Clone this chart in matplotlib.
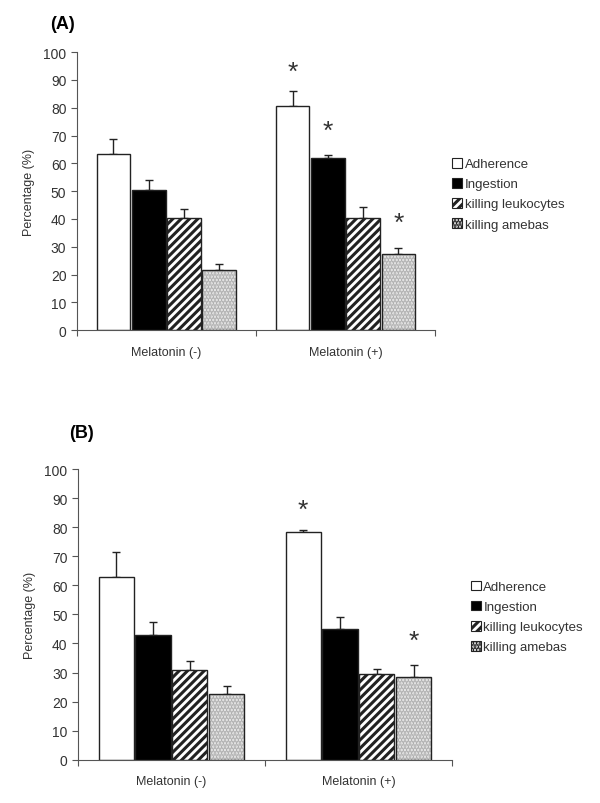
import numpy as np
import matplotlib.pyplot as plt
from matplotlib.patches import Patch

plt.rcParams['font.family'] = ['Liberation Sans', 'DejaVu Sans']
plt.rcParams['hatch.linewidth'] = 2.2

groups = ['Melatonin (-)', 'Melatonin (+)']
series = ['Adherence', 'Ingestion', 'killing leukocytes', 'killing amebas']

# panel A
a_vals = {'Adherence': [63.5, 80.5], 'Ingestion': [50.5, 62.0],
          'killing leukocytes': [40.5, 40.2], 'killing amebas': [21.5, 27.5]}
a_err = {'Adherence': [5.2, 5.4], 'Ingestion': [3.6, 1.0],
         'killing leukocytes': [3.2, 4.2], 'killing amebas': [2.2, 2.2]}
a_stars = [(1, 'Adherence', 93.0), (1, 'Ingestion', 71.5), (1, 'killing amebas', 38.5)]

# panel B
b_vals = {'Adherence': [62.8, 78.3], 'Ingestion': [43.0, 45.1],
          'killing leukocytes': [30.9, 29.5], 'killing amebas': [22.7, 28.4]}
b_err = {'Adherence': [8.7, 0.8], 'Ingestion': [4.3, 4.0],
         'killing leukocytes': [3.0, 1.7], 'killing amebas': [2.7, 4.2]}
b_stars = [(1, 'Adherence', 86.0), (1, 'killing amebas', 41.0)]

styles = {'Adherence': dict(facecolor='white', hatch=None),
          'Ingestion': dict(facecolor='black', hatch=None),
          'killing leukocytes': dict(facecolor='white', hatch='////'),
          'killing amebas': dict(facecolor='#ececec', hatch='.....')}

step = 0.197
width = 0.188
offsets = (np.arange(4) - 1.5) * step


def draw_panel(ax, vals, errs, stars, label, label_xy, legend_xy):
    x = np.arange(len(groups)) + 0.5
    for i, s in enumerate(series):
        st = styles[s]
        if s == 'killing amebas':
            ax.bar(x + offsets[i], vals[s], width, facecolor=st['facecolor'],
                   edgecolor='#b0b0b0', linewidth=0, hatch=st['hatch'], zorder=2)
            ax.bar(x + offsets[i], vals[s], width, facecolor='none',
                   edgecolor='#222222', linewidth=1.0, zorder=3)
        else:
            ax.bar(x + offsets[i], vals[s], width, facecolor=st['facecolor'],
                   edgecolor='#222222', linewidth=1.0, hatch=st['hatch'], zorder=2)
        ax.errorbar(x + offsets[i], vals[s], yerr=[np.zeros(2), errs[s]],
                    fmt='none', ecolor='#222222', elinewidth=1.0, capsize=3,
                    capthick=1.0, zorder=1)
    for g, s, yv in stars:
        ax.text(g + 0.5 + offsets[series.index(s)], yv, '*', ha='center',
                va='center', fontsize=19, color='#333333')

    ax.set_xlim(0, 2)
    ax.set_ylim(0, 100)
    ax.set_yticks(np.arange(0, 101, 10))
    ax.set_xticks([0, 1, 2])
    ax.set_xticklabels([])
    ax.set_xticks(x, minor=True)
    ax.set_xticklabels(groups, minor=True, fontsize=9, color='#333333')
    ax.tick_params(axis='x', which='minor', length=0, pad=11)
    ax.tick_params(axis='x', which='major', length=4, direction='out', color='#555555')
    ax.tick_params(axis='y', length=4, direction='out', labelsize=10,
                   labelcolor='#333333', color='#555555')
    for sp in ['top', 'right']:
        ax.spines[sp].set_visible(False)
    for sp in ['left', 'bottom']:
        ax.spines[sp].set_color('#555555')
    ax.set_ylabel('Percentage (%)', fontsize=9, color='#333333', labelpad=6)

    fig.text(label_xy[0], label_xy[1], label, fontsize=13, fontweight='bold',
             va='center')

    handles = []
    for s in series:
        st = styles[s]
        handles.append(Patch(facecolor=st['facecolor'], edgecolor='#222222',
                             hatch=st['hatch'], linewidth=0.8, label=s))
    leg = fig.legend(handles=handles, loc='upper left', bbox_to_anchor=legend_xy,
                     frameon=False, fontsize=9.5, handlelength=0.75,
                     handleheight=0.75, handletextpad=0.2, labelspacing=0.58,
                     borderaxespad=0)
    for t in leg.get_texts():
        t.set_color('#333333')


fig = plt.figure(figsize=(6, 8.04), dpi=100)
axA = fig.add_axes([0.128, 0.588, 0.597, 0.346])
draw_panel(axA, a_vals, a_err, a_stars, '(A)', (0.083, 0.970), (0.745, 0.809))
axB = fig.add_axes([0.130, 0.054, 0.623, 0.361])
draw_panel(axB, b_vals, b_err, b_stars, '(B)', (0.115, 0.461), (0.776, 0.283))

fig.savefig('out.png', dpi=100)
